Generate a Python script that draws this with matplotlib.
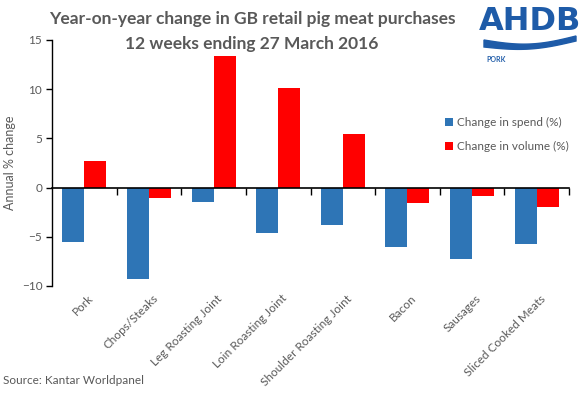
import matplotlib.pyplot as plt
import numpy as np

# data
categories = ['Pork', 'Chops/Steaks', 'Leg Roasting Joint', 'Loin Roasting Joint',
              'Shoulder Roasting Joint', 'Bacon', 'Sausages', 'Sliced Cooked Meats']
spend = [-5.55, -9.3, -1.45, -4.65, -3.8, -6.05, -7.3, -5.75]
volume = [2.7, -1.05, 13.4, 10.1, 5.45, -1.55, -0.85, -2.0]

BLUE = '#2E75B6'
RED = '#FF0000'
GREY = '#595959'

plt.rcParams['font.family'] = ['Lato', 'DejaVu Sans']

fig = plt.figure(figsize=(5.8, 3.98), dpi=100)
ax = fig.add_axes([52 / 580, 1 - 286 / 398, 517 / 580, 246 / 398])

x = np.arange(len(categories))
w = 0.34
ax.bar(x + 0.5 - w / 2, spend, width=w, color=BLUE, label='Change in spend (%)')
ax.bar(x + 0.5 + w / 2, volume, width=w, color=RED, label='Change in volume (%)')

ax.set_xlim(0, len(categories))
ax.set_ylim(-10, 15)
ax.set_yticks([-10, -5, 0, 5, 10, 15])

# spines: left axis and a zero line with ticks between the categories
for s in ['top', 'right']:
    ax.spines[s].set_visible(False)
ax.spines['bottom'].set_position(('data', 0))
ax.spines['bottom'].set_linewidth(1.2)
ax.spines['left'].set_linewidth(1.0)

ax.set_xticks(np.arange(1, len(categories) + 1))
ax.set_xticklabels([])
ax.tick_params(axis='x', direction='out', length=5, width=1)
ax.tick_params(axis='y', direction='out', length=4, width=1, labelsize=8.5,
               labelcolor=GREY, pad=3)

# category labels, rotated below the plot
for i, name in enumerate(categories):
    ax.text(i + 0.55, -10.7, name, rotation=45, ha='right', va='top',
            rotation_mode='anchor', fontsize=8.5, color=GREY)

ax.set_ylabel('Annual % change', fontsize=9, color=GREY, labelpad=4)

ax.legend(loc='upper left', bbox_to_anchor=(0.74, 0.73), frameon=False,
          fontsize=8.5, labelcolor=GREY, handlelength=0.7, handleheight=0.7,
          handletextpad=0.3, labelspacing=1.1)

fig.text(252 / 580, 1 - 19 / 398, 'Year-on-year change in GB retail pig meat purchases',
         ha='center', va='center', fontsize=12.5, fontweight='bold', color=GREY)
fig.text(252 / 580, 1 - 44 / 398, '12 weeks ending 27 March 2016',
         ha='center', va='center', fontsize=12.5, fontweight='bold', color=GREY)

fig.text(3 / 580, 1 - 381 / 398, 'Source: Kantar Worldpanel', ha='left', va='center',
         fontsize=8.5, color=GREY)

# AHDB logo
fig.text(530 / 580, 1 - 22 / 398, 'AHDB', ha='center', va='center', fontsize=23,
         fontweight='bold', color='#1E5BA8', family='Liberation Sans Narrow')
t = np.linspace(0, 1, 50)
lx = (484 + 92 * t) / 580
ly1 = 1 - (40 + 6 * np.sin(np.pi * t) - 4 * t) / 398
ly2 = 1 - (47 + 5 * np.sin(np.pi * t) - 6 * t) / 398
fig.add_artist(plt.Polygon(np.column_stack([np.r_[lx, lx[::-1]], np.r_[ly1, ly2[::-1]]]),
                           closed=True, color='#1E5BA8', transform=fig.transFigure))
fig.text(486 / 580, 1 - 60 / 398, 'PORK', ha='left', va='center', fontsize=5,
         fontweight='bold', color='#1E5BA8')

fig.savefig('out.png', dpi=100)
